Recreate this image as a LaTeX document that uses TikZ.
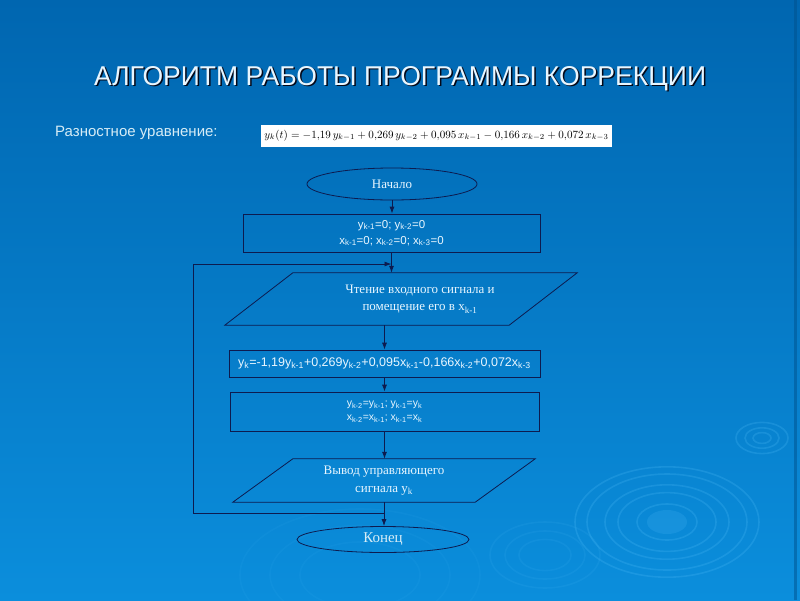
\documentclass[tikz,border=0pt]{standalone}
\usepackage{graphicx}
\usepackage{fontspec}
\setmainfont{Liberation Serif}
\setsansfont{Liberation Sans}
\usetikzlibrary{shapes.geometric,arrows.meta}

\definecolor{bgtop}{HTML}{0066B0}
\definecolor{bgmid}{HTML}{006BB6}
\definecolor{bgbot}{HTML}{0B8EDC}
\definecolor{navy}{HTML}{0D1B4F}
\definecolor{pale}{HTML}{E8F6FF}
\definecolor{labelcol}{HTML}{D6ECF6}
\definecolor{ripple}{HTML}{5CC6FF}

\newcommand{\ix}[1]{\textsubscript{#1}}

\begin{document}
\begin{tikzpicture}[x=1pt, y=-1pt]
		\tikzstyle{block} = [rectangle,draw=navy,line width=0.8pt,inner sep=0pt,text=pale,align=center,font=\sffamily\fontsize{11.5}{16}\selectfont]
		\tikzstyle{term} = [ellipse,draw=navy,line width=0.8pt,inner sep=0pt,text=pale]
		\tikzstyle{io} = [rectangle,inner sep=0pt,text=pale,align=center,font=\fontsize{13}{17}\selectfont]
		\tikzstyle{frame} = [draw=navy,line width=0.8pt]
		\tikzstyle{arr} = [-{Latex[length=7pt,width=5pt]},draw=navy,line width=0.8pt]
		\tikzstyle{wave} = [draw=ripple,line width=1.6pt,opacity=0.2]
		% background
		\shade[top color=bgtop,middle color=bgmid,bottom color=bgbot] (0,0) rectangle (800,600);
		\fill[bgtop!80!black,opacity=0.5] (794,0) rectangle (797,600);
		\useasboundingbox (0,0) rectangle (800,600);
		% ripples
		\foreach \r in {92,80,62,49,30} \draw[wave] (667,522) ellipse ({\r} and {0.6*\r});
		\fill[ripple,opacity=0.16] (667,522) ellipse (20 and 12);
		\foreach \r in {26,17,9} \draw[wave] (762,438) ellipse ({\r} and {0.6*\r});
		\foreach \r in {55,40,26} \draw[wave,opacity=0.09] (545,555) ellipse ({\r} and {0.6*\r});
		\foreach \r in {120,90,60} \draw[wave,opacity=0.06] (360,575) ellipse ({\r} and {0.55*\r});
		% header
		\node[anchor=base,text=black!70!navy,font=\sffamily](titleshadow)at (401.5,86.5){\resizebox{612pt}{19pt}{АЛГОРИТМ РАБОТЫ ПРОГРАММЫ КОРРЕКЦИИ}};
		\node[anchor=base,text=pale,font=\sffamily](title)at (400,85){\resizebox{612pt}{19pt}{АЛГОРИТМ РАБОТЫ ПРОГРАММЫ КОРРЕКЦИИ}};
		\node[anchor=west,text=labelcol,font=\sffamily\fontsize{15}{18}\selectfont,inner sep=0pt](eqlabel)at (55,133){Разностное уравнение:};
		\node[fill=white,minimum width=351pt,minimum height=22pt,inner sep=0pt](eqbox)at (436.5,135.5){\resizebox{344pt}{!}{$y_k(t)=-1{,}19\,y_{k-1}+0{,}269\,y_{k-2}+0{,}095\,x_{k-1}-0{,}166\,x_{k-2}+0{,}072\,x_{k-3}$}};
		% flowchart
		\node[term,minimum width=170pt,minimum height=32pt,font=\fontsize{13}{16}\selectfont]at (392,184)(start){Начало};
		\node[block,minimum width=297pt,minimum height=38pt]at (391.5,233)(init){y\ix{k-1}=0; y\ix{k-2}=0\\x\ix{k-1}=0; x\ix{k-2}=0; x\ix{k-3}=0};
		\node[io,minimum width=284pt,minimum height=52pt]at (401,299)(read){\hspace*{38pt}\begin{tabular}{@{}c@{}}Чтение входного сигнала и\\помещение его в x\ix{k-1}\end{tabular}};
		\draw[frame] ([xshift=-34pt]read.south west) -- ([xshift=-34pt]read.south east) -- ([xshift=34pt]read.north east) -- ([xshift=34pt]read.north west) -- cycle;
		\node[block,minimum width=311pt,minimum height=27pt,font=\sffamily\fontsize{12.5}{14}\selectfont]at (384.5,363.5)(calc){y\ix{k}=-1,19y\ix{k-1}+0,269y\ix{k-2}+0,095x\ix{k-1}-0,166x\ix{k-2}+0,072x\ix{k-3}};
		\node[block,minimum width=309pt,minimum height=39pt,font=\sffamily\fontsize{10.5}{14}\selectfont]at (384.5,411.5)(shift){y\ix{k-2}=y\ix{k-1}; y\ix{k-1}=y\ix{k}\\x\ix{k-2}=x\ix{k-1}; x\ix{k-1}=x\ix{k}};
		\node[io,minimum width=242pt,minimum height=43pt,font=\fontsize{13}{18}\selectfont]at (384,480.5)(write){Вывод управляющего\\сигнала y\ix{k}};
		\draw[frame] ([xshift=-30pt]write.south west) -- ([xshift=-30pt]write.south east) -- ([xshift=30pt]write.north east) -- ([xshift=30pt]write.north west) -- cycle;
		\node[term,minimum width=172pt,minimum height=26pt,font=\fontsize{15}{18}\selectfont,text=labelcol]at (383,539.5)(stop){Конец};
		\coordinate (merge) at (391.5,264);
		\coordinate (split) at (384,513);
		\coordinate (back) at (193,513);
		\draw[arr] (start.south) -- (start.south |- init.north);
		\draw[arr] (init.south) -- (init.south |- read.north);
		\draw[arr] (read.south -| calc.north) -- (calc.north);
		\draw[arr] (calc.south) -- (calc.south |- shift.north);
		\draw[arr] (shift.south) -- (shift.south |- write.north);
		\draw[arr] (write.south) -- (write.south |- stop.north);
		\draw[arr] (split) -- (back) |- (merge);
		\end{tikzpicture}
\end{document}
